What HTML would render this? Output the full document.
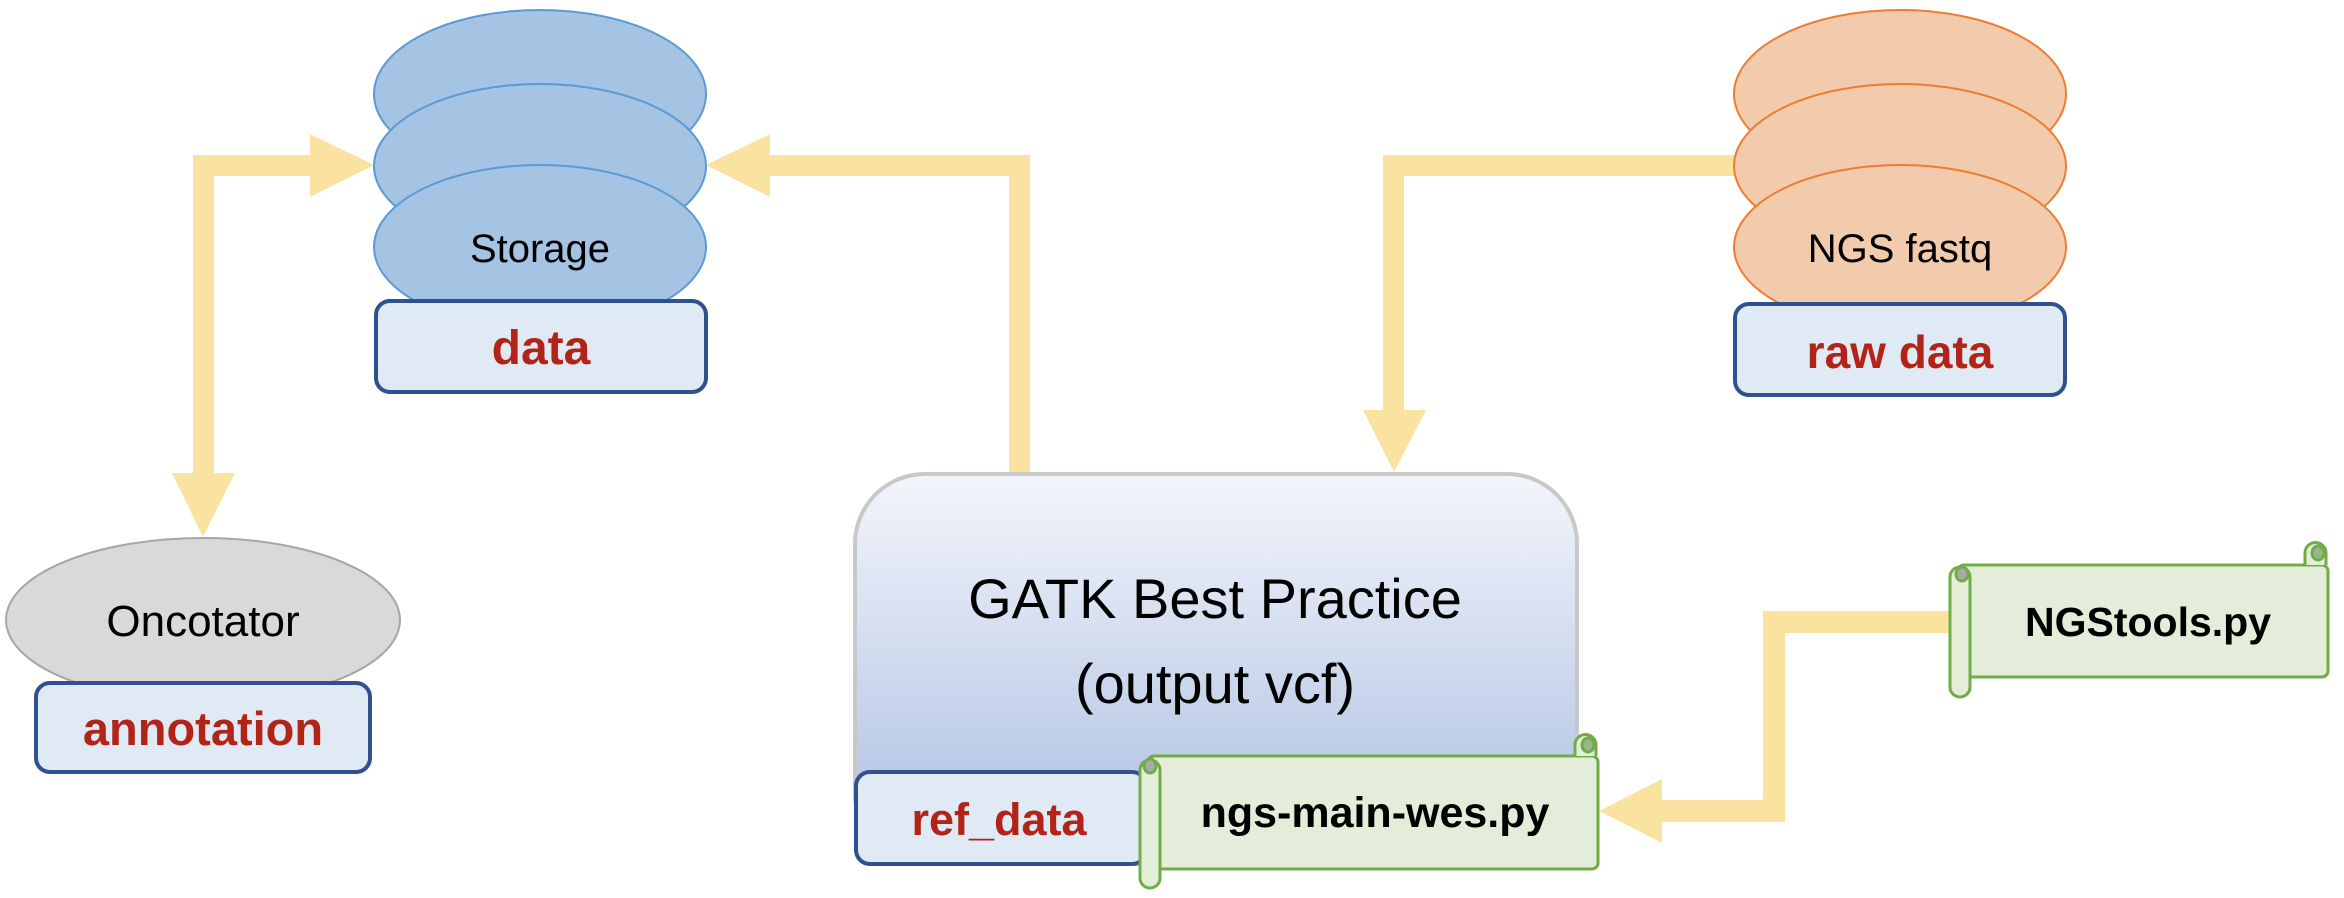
<!DOCTYPE html>
<html><head><meta charset="utf-8"><style>
html,body{margin:0;padding:0;background:#fff;}
svg{display:block;}
text{font-family:"Liberation Sans",sans-serif;}
</style></head><body>
<svg width="2344" height="898" viewBox="0 0 2344 898" xmlns="http://www.w3.org/2000/svg">
<defs>
<linearGradient id="g" x1="0" y1="0" x2="0" y2="1">
<stop offset="0" stop-color="#f3f5fb"/><stop offset="1" stop-color="#a9bde0"/>
</linearGradient>
</defs>
<g fill="#fae3a0">
<rect x="193" y="155" width="21" height="320"/>
<rect x="193" y="155" width="118" height="21"/>
<polygon points="310,134 374,165 310,197"/>
<polygon points="172,473 235,473 203,537"/>
<rect x="1009" y="155" width="21" height="318"/>
<rect x="770" y="155" width="260" height="21"/>
<polygon points="770,134 706,165 770,197"/>
<rect x="1383" y="155" width="360" height="21"/>
<rect x="1383" y="155" width="21" height="256"/>
<polygon points="1363,410 1426,410 1394,472"/>
<rect x="1763" y="611" width="192" height="22"/>
<rect x="1763" y="611" width="22" height="211"/>
<rect x="1660" y="800" width="125" height="22"/>
<polygon points="1662,779 1599,811 1662,843"/>
</g>
<g fill="#a5c3e3" stroke="#5b9bd5" stroke-width="2">
<ellipse cx="540" cy="94" rx="166" ry="84"/>
<ellipse cx="540" cy="166" rx="166" ry="82"/>
<ellipse cx="540" cy="247" rx="166" ry="82"/>
</g>
<text x="540" y="262" font-size="40" text-anchor="middle">Storage</text>
<rect x="376" y="301" width="330" height="91" rx="14" fill="#e0eaf5" stroke="#2f528f" stroke-width="4"/>
<text x="541" y="364" font-size="48" font-weight="bold" fill="#b22418" text-anchor="middle">data</text>
<g fill="#f2cbad" stroke="#ed7d31" stroke-width="2">
<ellipse cx="1900" cy="94" rx="166" ry="84"/>
<ellipse cx="1900" cy="166" rx="166" ry="82"/>
<ellipse cx="1900" cy="247" rx="166" ry="82"/>
</g>
<text x="1900" y="262" font-size="40" text-anchor="middle">NGS fastq</text>
<rect x="1735" y="304" width="330" height="91" rx="14" fill="#e0eaf5" stroke="#2f528f" stroke-width="4"/>
<text x="1900" y="368" font-size="46" font-weight="bold" fill="#b22418" text-anchor="middle">raw data</text>
<ellipse cx="203" cy="620" rx="197" ry="82" fill="#d9d9d9" stroke="#a6a6a6" stroke-width="2"/>
<text x="203" y="636" font-size="44" text-anchor="middle">Oncotator</text>
<rect x="36" y="683" width="334" height="89" rx="14" fill="#e0eaf5" stroke="#2f528f" stroke-width="4"/>
<text x="203" y="745" font-size="47" font-weight="bold" fill="#b22418" text-anchor="middle">annotation</text>
<rect x="855" y="474" width="722" height="390" rx="70" fill="url(#g)" stroke="#c8c8c8" stroke-width="4"/>
<text x="1215" y="618" font-size="56" text-anchor="middle">GATK Best Practice</text>
<text x="1215" y="703" font-size="56" text-anchor="middle">(output vcf)</text>
<rect x="856" y="772" width="290" height="92" rx="14" fill="#e0eaf5" stroke="#2f528f" stroke-width="4"/>
<text x="999" y="835" font-size="45" font-weight="bold" fill="#b22418" text-anchor="middle">ref_data</text>
<g fill="#e4edda" stroke="#70ad47" stroke-width="3">
<rect x="1148" y="756" width="450" height="113" rx="6"/>
<rect x="1140" y="760" width="20" height="128" rx="10"/>
<ellipse cx="1150" cy="766" rx="6" ry="7" fill="#a9a9a9"/>
<path d="M1575,756 L1575,745 A10,10 0 0 1 1596,745 L1596,756" />
<ellipse cx="1588" cy="745" rx="6" ry="7" fill="#9bb68a"/>
</g>
<text x="1375" y="827" font-size="43" font-weight="bold" text-anchor="middle">ngs-main-wes.py</text>
<g fill="#e4edda" stroke="#70ad47" stroke-width="3">
<rect x="1958" y="565" width="370" height="112" rx="6"/>
<rect x="1950" y="567" width="20" height="130" rx="10"/>
<ellipse cx="1962" cy="574" rx="6" ry="7" fill="#a9a9a9"/>
<path d="M2305,565 L2305,553 A10,10 0 0 1 2326,553 L2326,565" />
<ellipse cx="2318" cy="553" rx="6" ry="7" fill="#9bb68a"/>
</g>
<text x="2148" y="636" font-size="41" font-weight="bold" text-anchor="middle">NGStools.py</text>
</svg>
</body></html>
